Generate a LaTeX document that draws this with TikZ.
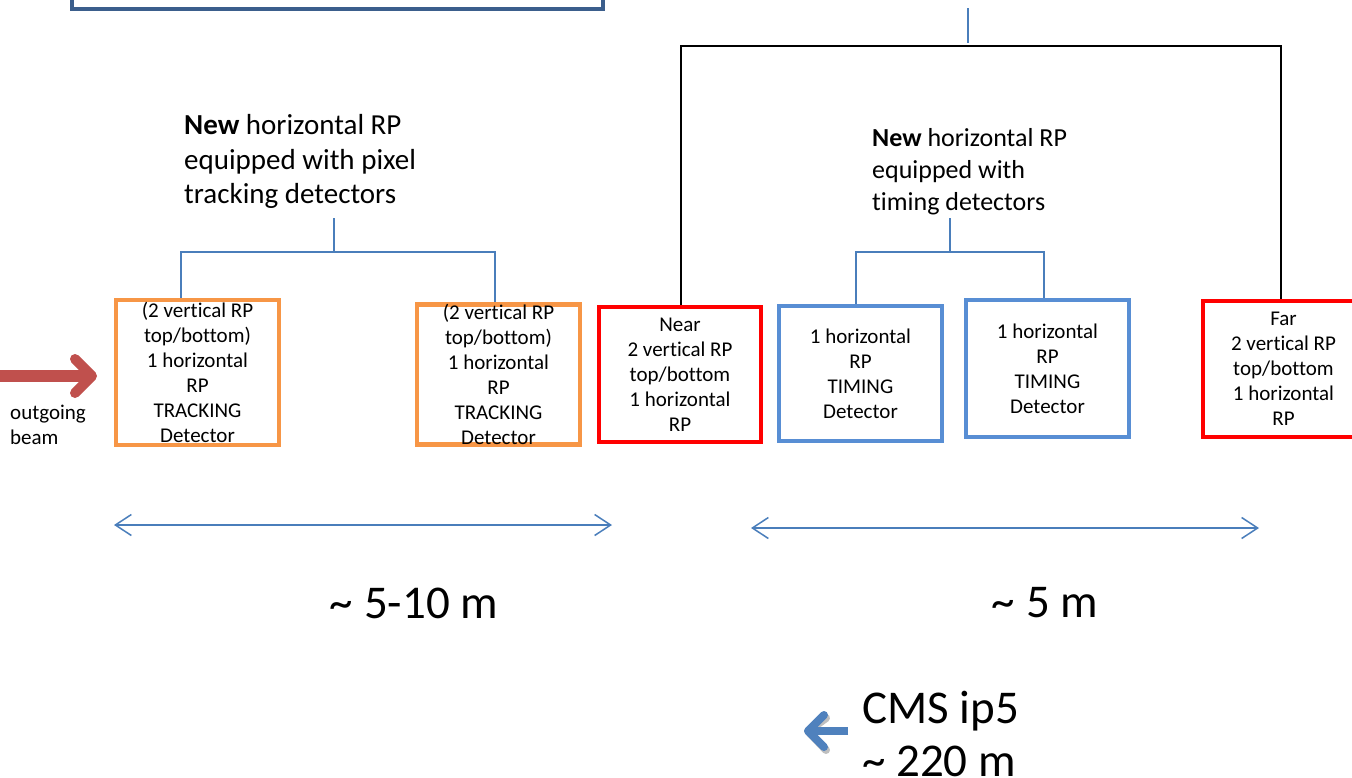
\documentclass[tikz,border=0pt]{standalone}
\usepackage{fontspec}
\setmainfont{Carlito}[Ligatures={NoCommon}]
\usetikzlibrary{arrows.meta}
\definecolor{orng}{HTML}{F79646}
\definecolor{rpred}{HTML}{FF0000}
\definecolor{tmblue}{RGB}{88,142,212}
\definecolor{lnblue}{HTML}{4A7EBB}
\definecolor{dkblue}{HTML}{3B5E8C}
\definecolor{arrred}{HTML}{C0504D}
\definecolor{arrblue}{HTML}{4F81BD}
\tikzset{
  rpbox/.style={draw, line width=4.8pt, inner sep=0pt, align=center,
    font=\fontsize{21}{25}\selectfont, text=black},
  trkbox/.style={rpbox, draw=orng},
  redbox/.style={rpbox, draw=rpred},
  timbox/.style={rpbox, draw=tmblue},
  bline/.style={draw=lnblue, line width=1.4pt},
  kline/.style={draw=black, line width=2pt},
  dimarr/.style={draw=lnblue, line width=1.5pt, {Straight Barb[length=16pt,width=21pt]}-{Straight Barb[length=16pt,width=21pt]}},
  bigtxt/.style={font=\fontsize{47}{53}\selectfont, inner sep=0pt},
  lbl/.style={inner sep=0pt, align=left, anchor=west}
}
\begin{document}
\begin{tikzpicture}[x=1pt,y=-1pt]
\useasboundingbox (0,0) rectangle (1352,777);
\clip (0,0) rectangle (1352,777);

% top box (cut off)
\node[draw=dkblue, line width=4pt, minimum width=531pt, minimum height=100pt, inner sep=0pt] (topbox) at (337.5,-41) {};

% RP boxes
\node[trkbox, minimum width=163pt, minimum height=145pt] (trk1) at (197.5,372.5)
  {(2 vertical RP\\top/bottom)\\1 horizontal\\RP\\TRACKING\\Detector};
\node[trkbox, minimum width=163pt, minimum height=139pt] (trk2) at (498.5,374.5)
  {(2 vertical RP\\top/bottom)\\1 horizontal\\RP\\TRACKING\\Detector};
\node[redbox, minimum width=162pt, minimum height=135pt] (near) at (680,374.5)
  {Near\\2 vertical RP\\top/bottom\\1 horizontal\\RP};
\node[timbox, minimum width=163pt, minimum height=135pt] (tim1) at (860.5,373.5)
  {1 horizontal\\RP\\TIMING\\Detector};
\node[timbox, minimum width=163pt, minimum height=137pt] (tim2) at (1047.5,368.5)
  {1 horizontal\\RP\\TIMING\\Detector};
\node[redbox, minimum width=161pt, minimum height=136pt] (far) at (1283.5,369)
  {Far\\2 vertical RP\\top/bottom\\1 horizontal\\RP};

% labels
\node[lbl, font=\fontsize{29}{34.5}\selectfont] (newtrk) at (184,161.5)
  {\textbf{New} horizontal RP\\equipped with pixel\\tracking detectors};
\node[lbl, font=\fontsize{26}{32}\selectfont] (newtim) at (872,172)
  {\textbf{New} horizontal RP\\equipped with\\timing detectors};
\node[lbl, font=\fontsize{21}{25}\selectfont] (beam) at (10,424.5)
  {outgoing\\beam};
\node[bigtxt] (d1) at (414,603) {\textasciitilde{} 5-10 m};
\node[bigtxt] (d2) at (1045,603) {\textasciitilde{} 5 m};
\node[bigtxt, lbl] (cms) at (862,733.5) {CMS ip5\\\textasciitilde{} 220 m};

% left (tracking) bracket
\coordinate (lT) at (334,218);
\coordinate (lL) at (181,252);
\coordinate (lR) at (495,252);
\draw[bline] (lT) -- (lT |- lL);
\draw[bline] (trk1.north -| lL) -- (lL) -- (lR) -- (trk2.north -| lR);

% right (timing) bracket
\coordinate (rT) at (950,218);
\coordinate (rL) at (856,252);
\coordinate (rR) at (1044,252);
\draw[bline] (rT) -- (rT |- rL);
\draw[bline] (tim1.north -| rL) -- (rL) -- (rR) -- (tim2.north -| rR);

% top black bracket
\coordinate (kT) at (968,8);
\coordinate (kJ) at (968,43);
\draw[bline] (kT) -- (kJ);
\coordinate (kL) at (681,46);
\coordinate (kR) at (1281,46);
\draw[kline] (near.north -| kL) -- (kL) -- (kR) -- (far.north -| kR);

% dimension arrows
\coordinate (a1) at (114,525);
\coordinate (a2) at (612,525);
\coordinate (b1) at (751,528);
\coordinate (b2) at (1259,528);
\draw[dimarr] (a1) -- (a2);
\draw[dimarr] (b1) -- (b2);

% red beam arrow
\coordinate (rs) at (0,376);
\coordinate (re) at (92,376);
\draw[arrred, line width=12pt] (rs) -- (re);
\draw[arrred, line width=10pt, line cap=round, line join=round] (75,359) -- (re) -- (75,393);

% blue arrow to CMS
\coordinate (bs) at (848,731);
\coordinate (be) at (808,731);
\begin{scope}[shift={(2,3)}, opacity=0.25]
\draw[black, line width=8pt] (bs) -- (be);
\draw[black, line width=8pt, line cap=round, line join=round] (824,715) -- (be) -- (824,747);
\end{scope}
\draw[arrblue, line width=8pt] (bs) -- (be);
\draw[arrblue, line width=8pt, line cap=round, line join=round] (824,715) -- (be) -- (824,747);
\end{tikzpicture}
\end{document}
